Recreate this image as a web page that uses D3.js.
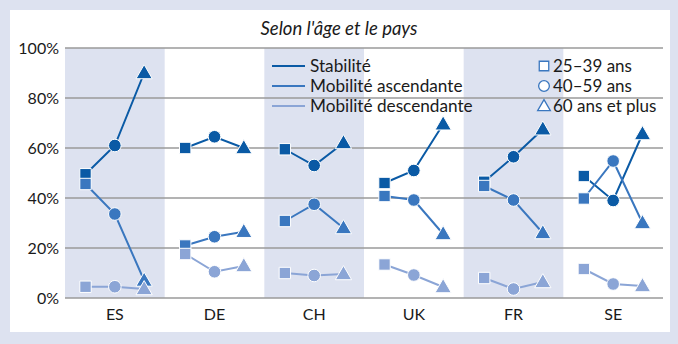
<!DOCTYPE html>
<html><head><meta charset="utf-8">
<script src="https://cdn.jsdelivr.net/npm/d3@7"></script>
<style>
html,body{margin:0;padding:0;background:#dde2f0;}
svg{display:block;font-family:Lato,"Open Sans",sans-serif;}
</style></head>
<body>
<svg id="c" width="678" height="344"></svg>
<script>
const countries = ["ES","DE","CH","UK","FR","SE"];
const ages = ["25–39 ans","40–59 ans","60 ans et plus"];
const seriesNames = ["Stabilité","Mobilité ascendante","Mobilité descendante"];
const stabilite   = [[49.5,61,90],[60,64.5,60],[59.5,53,62],[46,51,69.5],[46.5,56.5,67.5],[48.8,39,65.6]];
const ascendante  = [[45.6,33.6,7],[21,24.5,26.5],[30.8,37.5,28],[40.8,39.2,25.6],[44.8,39.2,26],[39.8,54.8,30]];
const descendante = [[4.5,4.5,3.6],[17.6,10.5,12.8],[10,9,9.6],[13.4,9.2,4.4],[8,3.6,6.4],[11.6,5.6,4.8]];
const yTicks = [0,20,40,60,80,100];
const title = "Selon l'âge et le pays";

const colors = ["#0a5aa5","#3a77bf","#8ba5d6"];
const svg = d3.select("#c");
// panel
svg.append("rect").attr("x",10).attr("y",10).attr("width",660).attr("height",322).attr("fill","#fff");

const m = {l:65, r:663, t:48, b:298};
const x = d3.scaleBand().domain(countries).range([m.l, m.r]).padding(0);
const inner = d3.scalePoint().domain(ages).range([0, x.bandwidth()]).padding(0.7);
const y = d3.scaleLinear().domain([0,100]).range([m.b, m.t]);

// shaded bands
svg.append("g").selectAll("rect").data(countries.filter((d,i)=>i%2===0)).join("rect")
  .attr("x", d=>x(d)).attr("y", m.t).attr("width", x.bandwidth()).attr("height", m.b-m.t)
  .attr("fill","#dde2f0");

// gridlines
svg.append("g").selectAll("line").data(yTicks).join("line")
  .attr("x1", m.l).attr("x2", m.r).attr("y1", d=>y(d)).attr("y2", d=>y(d))
  .attr("stroke","#9a9a9a").attr("stroke-width",1.3);

// y axis labels
const ya = svg.append("g").attr("transform",`translate(${m.l-6},0)`)
  .call(d3.axisLeft(y).tickValues(yTicks).tickFormat(d=>d+"%").tickSize(0).tickPadding(0));
ya.select(".domain").remove();
ya.selectAll("text").attr("font-size",16).attr("fill","#1a1a1a").attr("font-family","Lato,sans-serif");

// x axis labels
const xa = svg.append("g").attr("transform",`translate(0,${m.b+8})`)
  .call(d3.axisBottom(x).tickSize(0).tickPadding(0));
xa.select(".domain").remove();
xa.selectAll("text").attr("font-size",16).attr("fill","#1a1a1a").attr("dy","0.9em").attr("font-family","Lato,sans-serif");

// title
svg.append("text").attr("x",339).attr("y",35).attr("text-anchor","middle")
  .attr("font-size",18.5).attr("font-style","italic").attr("fill","#1a1a1a").text(title);

const symTypes = [d3.symbolSquare, d3.symbolCircle, d3.symbolTriangle];
const symSizes = [130, 125, 115];
const allSeries = [stabilite, ascendante, descendante];
const line = d3.line();

allSeries.forEach((ser, si) => {
  const g = svg.append("g");
  countries.forEach((c, ci) => {
    const pts = ages.map((a, ai) => [x(c) + inner(a), y(ser[ci][ai])]);
    g.append("path").attr("d", line(pts)).attr("fill","none")
      .attr("stroke", colors[si]).attr("stroke-width", 2);
  });
  countries.forEach((c, ci) => {
    ages.forEach((a, ai) => {
      const px = x(c) + inner(a), py = y(ser[ci][ai]);
      g.append("path").attr("d", d3.symbol(symTypes[ai], symSizes[ai])())
        .attr("transform", `translate(${px},${py + (ai===2?1:0)})`)
        .attr("fill", colors[si]).attr("stroke","#fff").attr("stroke-width",1);
    });
  });
});

// legend: series
const lg = svg.append("g");
seriesNames.forEach((s, i) => {
  const ly = 66 + i*20;
  lg.append("line").attr("x1",272).attr("x2",305).attr("y1",ly).attr("y2",ly)
    .attr("stroke", colors[i]).attr("stroke-width",2);
  lg.append("text").attr("x",310).attr("y",ly).attr("dy","0.35em")
    .attr("font-size",17.2).attr("fill","#1a1a1a").text(s);
});
// legend: ages
ages.forEach((a, i) => {
  const ly = 66 + i*20;
  lg.append("path").attr("d", d3.symbol(symTypes[i], [90,90,70][i])())
    .attr("transform",`translate(544,${ly + (i===2?1:0)})`)
    .attr("fill","#fff").attr("stroke", colors[1]).attr("stroke-width",1.3);
  lg.append("text").attr("x",553).attr("y",ly).attr("dy","0.35em")
    .attr("font-size",17).attr("fill","#1a1a1a").text(a);
});
</script>
</body></html>
